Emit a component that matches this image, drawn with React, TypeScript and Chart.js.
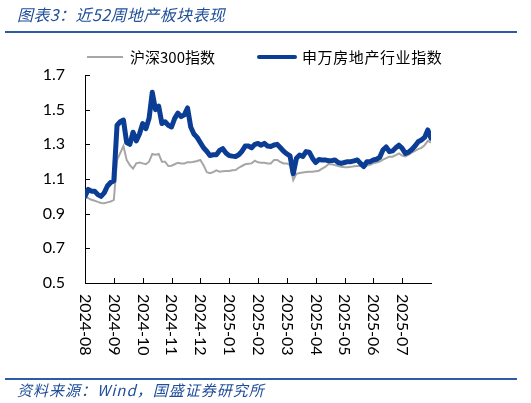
import { useEffect, useRef } from 'react';
import { Chart, registerables } from 'chart.js';

Chart.register(...registerables);

// month labels on the x axis (one tick per month)
const months = [
  '2024-08', '2024-09', '2024-10', '2024-11', '2024-12', '2025-01',
  '2025-02', '2025-03', '2025-04', '2025-05', '2025-06', '2025-07',
];

// samples per month in the series below
const STEPS_PER_MONTH = 9;

// 沪深300指数 (normalised)
const hs300 = [
  1.00, 0.99, 0.98, 0.975, 0.968, 0.962, 0.96, 0.965, 0.97, 0.98,
  1.21, 1.25, 1.29, 1.21, 1.18, 1.16, 1.19, 1.195, 1.19, 1.185,
  1.20, 1.245, 1.24, 1.245, 1.20, 1.20, 1.175, 1.177, 1.185, 1.194,
  1.19, 1.19, 1.196, 1.196, 1.20, 1.204, 1.21, 1.18, 1.14, 1.133,
  1.14, 1.15, 1.142, 1.145, 1.146, 1.146, 1.15, 1.152, 1.165, 1.175,
  1.185, 1.188, 1.19, 1.205, 1.196, 1.194, 1.194, 1.19, 1.19, 1.21,
  1.21, 1.198, 1.19, 1.19, 1.18, 1.094, 1.13, 1.135, 1.138, 1.14,
  1.142, 1.142, 1.145, 1.148, 1.16, 1.17, 1.187, 1.185, 1.18, 1.175,
  1.171, 1.168, 1.168, 1.17, 1.174, 1.175, 1.175, 1.168, 1.178, 1.182,
  1.19, 1.195, 1.20, 1.212, 1.22, 1.229, 1.229, 1.238, 1.248, 1.235,
  1.23, 1.24, 1.252, 1.262, 1.272, 1.28, 1.295, 1.32, 1.31,
];

// 申万房地产行业指数 (normalised)
const swRealEstate = [
  1.00, 1.04, 1.03, 1.03, 1.01, 1.00, 1.02, 1.06, 1.08, 1.09,
  1.41, 1.43, 1.44, 1.31, 1.30, 1.37, 1.32, 1.36, 1.42, 1.39,
  1.45, 1.60, 1.50, 1.52, 1.42, 1.43, 1.41, 1.40, 1.45, 1.48,
  1.46, 1.47, 1.51, 1.40, 1.36, 1.34, 1.31, 1.28, 1.26, 1.235,
  1.24, 1.24, 1.265, 1.275, 1.25, 1.235, 1.232, 1.23, 1.24, 1.26,
  1.29, 1.29, 1.28, 1.30, 1.305, 1.295, 1.306, 1.29, 1.287, 1.296,
  1.30, 1.28, 1.26, 1.245, 1.233, 1.13, 1.22, 1.238, 1.23, 1.258,
  1.255, 1.22, 1.195, 1.212, 1.21, 1.21, 1.205, 1.206, 1.21, 1.195,
  1.19, 1.195, 1.20, 1.20, 1.205, 1.21, 1.19, 1.172, 1.20, 1.20,
  1.21, 1.214, 1.225, 1.267, 1.285, 1.258, 1.262, 1.28, 1.295, 1.277,
  1.248, 1.255, 1.27, 1.29, 1.315, 1.325, 1.34, 1.383, 1.335,
];

const yTicks = [0.5, 0.7, 0.9, 1.1, 1.3, 1.5, 1.7];

const GRAY = '#A6A6A6';
const BLUE = '#0B3D94';
const NUM_FONT = 'Lato, "Liberation Sans", sans-serif';
const CJK_FONT = '"Noto Sans CJK SC", sans-serif';

const toPoints = (vals: number[]) =>
  vals.map((v, i) => ({ x: i / STEPS_PER_MONTH, y: v }));

// inward tick marks + vertical (clockwise) month labels
const axisDecor = {
  id: 'axisDecor',
  afterDraw(chart: any) {
    const { ctx, chartArea, scales } = chart;
    const x = scales.x;
    const y = scales.y;
    ctx.save();
    ctx.strokeStyle = '#000';
    ctx.lineWidth = 1;
    ctx.beginPath();
    yTicks.forEach((t) => {
      const py = Math.round(y.getPixelForValue(t)) + 0.5;
      ctx.moveTo(chartArea.left, py);
      ctx.lineTo(chartArea.left + 5, py);
    });
    for (let m = 1; m < months.length; m++) {
      const px = Math.round(x.getPixelForValue(m)) + 0.5;
      ctx.moveTo(px, chartArea.bottom);
      ctx.lineTo(px, chartArea.bottom - 5);
    }
    ctx.stroke();

    ctx.fillStyle = '#000';
    ctx.font = `16px ${NUM_FONT}`;
    ctx.textAlign = 'left';
    ctx.textBaseline = 'middle';
    months.forEach((label, m) => {
      ctx.save();
      ctx.translate(x.getPixelForValue(m), chartArea.bottom + 11);
      ctx.rotate(Math.PI / 2);
      ctx.fillText(label, 0, 0);
      ctx.restore();
    });
    ctx.restore();
  },
};

const App = () => {
  const canvasRef = useRef<HTMLCanvasElement>(null);
  const chartRef = useRef<Chart | null>(null);

  useEffect(() => {
    if (!canvasRef.current) return;
    if (chartRef.current) chartRef.current.destroy();

    chartRef.current = new Chart(canvasRef.current, {
      type: 'line',
      data: {
        datasets: [
          {
            label: '沪深300指数',
            data: toPoints(hs300),
            borderColor: GRAY,
            borderWidth: 2,
            pointRadius: 0,
            order: 2,
          },
          {
            label: '申万房地产行业指数',
            data: toPoints(swRealEstate),
            borderColor: BLUE,
            borderWidth: 5,
            borderJoinStyle: 'round',
            borderCapStyle: 'round',
            pointRadius: 0,
            order: 1,
          },
        ],
      },
      options: {
        responsive: true,
        maintainAspectRatio: false,
        animation: false,
        layout: { padding: { left: 0, right: 100, top: 75, bottom: 40 } },
        plugins: {
          legend: { display: false },
          tooltip: { enabled: false },
        },
        scales: {
          x: {
            type: 'linear',
            min: 0,
            max: months.length,
            grid: { display: false },
            border: { display: true, color: '#000', width: 1 },
            ticks: { display: false },
            afterFit: (scale: any) => {
              scale.height = 80;
            },
          },
          y: {
            min: 0.5,
            max: 1.7,
            grid: { display: false, drawTicks: false },
            border: { display: true, color: '#000', width: 1 },
            ticks: {
              stepSize: 0.2,
              padding: 20,
              color: '#000',
              font: { family: NUM_FONT, size: 16 },
              callback: (v: any) => Number(v).toFixed(1),
            },
            afterFit: (scale: any) => {
              scale.width = 85;
            },
          },
        },
      },
      plugins: [axisDecor],
    });

    return () => {
      if (chartRef.current) {
        chartRef.current.destroy();
        chartRef.current = null;
      }
    };
  }, []);

  return (
    <div
      style={{
        position: 'fixed',
        left: 0,
        top: 0,
        width: 531,
        height: 403,
        background: '#fff',
        overflow: 'hidden',
      }}
    >
      <div style={{ position: 'absolute', left: 0, top: 0, width: 531, height: 403 }}>
        <canvas ref={canvasRef} />
      </div>

      {/* title */}
      <div
        style={{
          position: 'absolute',
          left: 17,
          top: 4,
          font: `italic 16px ${CJK_FONT}`,
          color: '#1F4E9A',
          whiteSpace: 'nowrap',
          lineHeight: '20px',
          letterSpacing: 0.4,
        }}
      >
        图表3：近52周地产板块表现
      </div>
      <div style={{ position: 'absolute', left: 5, top: 31, width: 512, height: 2, background: '#2F5BA5' }} />

      {/* legend */}
      <div style={{ position: 'absolute', left: 87, top: 56, width: 36, height: 2, background: GRAY }} />
      <div
        style={{
          position: 'absolute',
          left: 130,
          top: 47,
          font: `15px ${CJK_FONT}`,
          color: '#000',
          lineHeight: '20px',
          whiteSpace: 'nowrap',
        }}
      >
        沪深300指数
      </div>
      <div
        style={{
          position: 'absolute',
          left: 257,
          top: 55,
          width: 40,
          height: 4,
          borderRadius: 2,
          background: BLUE,
        }}
      />
      <div
        style={{
          position: 'absolute',
          left: 302,
          top: 47,
          font: `15px ${CJK_FONT}`,
          color: '#000',
          lineHeight: '20px',
          whiteSpace: 'nowrap',
          letterSpacing: 0.6,
        }}
      >
        申万房地产行业指数
      </div>

      {/* source */}
      <div style={{ position: 'absolute', left: 5, top: 378, width: 512, height: 2, background: '#2F5BA5' }} />
      <div
        style={{
          position: 'absolute',
          left: 17,
          top: 381,
          font: `italic 15px ${CJK_FONT}`,
          color: '#1F4E9A',
          lineHeight: '18px',
          whiteSpace: 'nowrap',
          letterSpacing: 1,
        }}
      >
        资料来源：Wind，国盛证券研究所
      </div>
    </div>
  );
};

export default App;
